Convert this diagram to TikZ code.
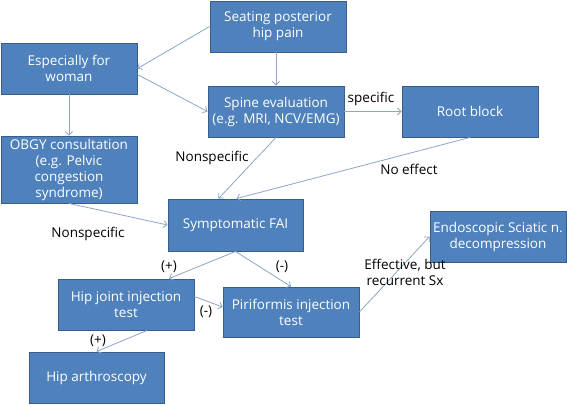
\documentclass[tikz,border=0pt]{standalone}
\usepackage{fontspec}
\setmainfont{Open Sans}
\usetikzlibrary{arrows.meta,calc}
\definecolor{boxfill}{HTML}{4F81BD}
\definecolor{boxline}{HTML}{385D8A}
\definecolor{conn}{HTML}{8CA5C8}
\begin{document}
\begin{tikzpicture}[x=1pt,y=-1pt,
  box/.style={draw=boxline,line width=0.9pt,fill=boxfill,text=white,align=center,
    minimum width=136pt,minimum height=51pt,inner sep=1pt,font=\fontsize{13.5}{16}\selectfont},
  lbl/.style={text=black,align=center,inner sep=0pt,font=\fontsize{13.5}{16}\selectfont},
  arr/.style={draw=conn,line width=0.8pt,-{Straight Barb[length=3.5pt,width=7pt]}}]
\useasboundingbox (0,0) rectangle (567,405);
\node[box] (seat) at (278,26.5) {Seating posterior\\hip pain};
\node[box] (woman) at (69,68.5) {Especially for\\woman};
\node[box] (spine) at (276,111.5) {Spine evaluation\\(e.g. MRI, NCV/EMG)};
\node[box] (root) at (470,111.5) {Root block};
\node[box,minimum height=67pt] (obgy) at (69,169.5) {OBGY consultation\\(e.g. Pelvic\\congestion\\syndrome)};
\node[box,minimum width=135pt,minimum height=52pt] (fai) at (235.5,225) {Symptomatic FAI};
\node[box] (hipj) at (126,304.5) {Hip joint injection\\test};
\node[box,minimum height=50pt] (pir) at (291,312) {Piriformis injection\\test};
\node[box,minimum width=135pt] (arth) at (96.5,377.5) {Hip arthroscopy};
\node[box] (endo) at (498,236.5) {Endoscopic Sciatic n.\\decompression};

\draw[arr] (seat.west) -- (woman.east);
\draw[arr] (seat.south -| spine.north) -- (spine.north);
\draw[arr] ($(woman.east)+(0,6)$) -- (spine.west);
\draw[arr] (woman.south) -- (obgy.north);
\draw[arr] (spine.east) -- (root.west);
\draw[arr] (spine.south) -- ($(fai.north)+(-17,0)$);
\draw[arr] (root.south) -- ($(fai.north)+(1,0)$);
\draw[arr] (obgy.south) -- (fai.west);
\draw[arr] (fai.south) -- ($(hipj.north)+(43,0)$);
\draw[arr] (fai.south) -- (pir.north);
\draw[arr] ($(hipj.east)+(0,-8)$) -- ($(pir.west)+(0,-5)$);
\draw[arr] ($(hipj.south)+(21,0)$) -- (arth.north);
\draw[arr] (pir.east) -- (endo.west);

\node[lbl] (l1) at (371,99) {specific};
\node[lbl] (l2) at (212,158) {Nonspecific};
\node[lbl] (l3) at (409,169) {No effect};
\node[lbl] (l4) at (88,234) {Nonspecific};
\node[lbl] (l5) at (169,267) {(+)};
\node[lbl] (l6) at (282,267) {(-)};
\node[lbl] (l7) at (206,312) {(-)};
\node[lbl] (l8) at (98,341) {(+)};
\node[lbl] (l9) at (405,272) {Effective, but\\recurrent Sx};
\end{tikzpicture}
\end{document}
